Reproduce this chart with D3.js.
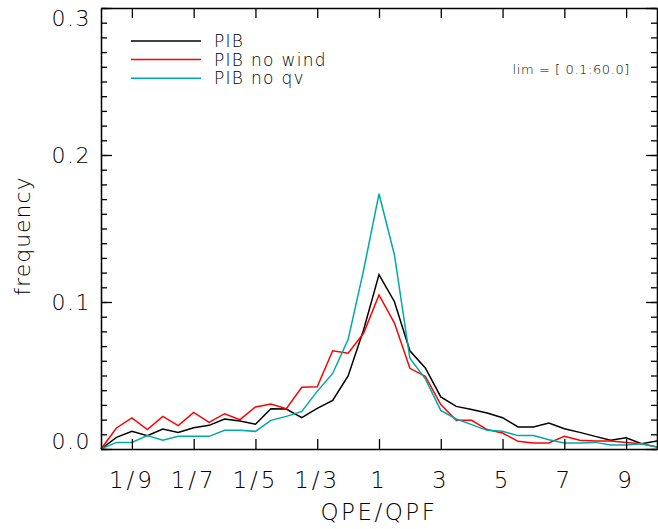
<!DOCTYPE html>
<html>
<head>
<meta charset="utf-8">
<script src="https://cdn.jsdelivr.net/npm/d3@7"></script>
<style>
  body { margin: 0; background: #fff; }
  svg { display: block; }
  text { font-family: "DejaVu Sans", sans-serif; font-weight: 200; fill: #000; }
</style>
</head>
<body>
<div id="chart"></div>
<script>
// bin centres on the symmetric QPE/QPF axis (1 -> 0, 3 -> 2, 1/3 -> -2 ...)
var bins = [-9, -8.5, -8, -7.5, -7, -6.5, -6, -5.5, -5, -4.5, -4, -3.5, -3, -2.5, -2, -1.5, -1, -0.5,
            0, 0.5, 1, 1.5, 2, 2.5, 3, 3.5, 4, 4.5, 5, 5.5, 6, 6.5, 7, 7.5, 8, 8.5, 9];

var pib = [0, 0.0079, 0.0120, 0.0091, 0.0136, 0.0113, 0.0145, 0.0161, 0.0204, 0.0190, 0.0168, 0.0274,
           0.0272, 0.0214, 0.0276, 0.0331, 0.0497, 0.0810, 0.1186, 0.1002, 0.0668, 0.0551, 0.0354,
           0.0290, 0.0268, 0.0245, 0.0213, 0.0150, 0.0150, 0.0177, 0.0138, 0.0113, 0.0086, 0.0059,
           0.0077, 0.0036, 0.0054];

var pibNoWind = [0, 0.0143, 0.0211, 0.0132, 0.0222, 0.0159, 0.0249, 0.0181, 0.0240, 0.0200, 0.0286,
                 0.0306, 0.0274, 0.0420, 0.0424, 0.0668, 0.0651, 0.0787, 0.1048, 0.0857, 0.0549,
                 0.0495, 0.0302, 0.0195, 0.0195, 0.0132, 0.0109, 0.0052, 0.0041, 0.0041, 0.0086,
                 0.0059, 0.0054, 0.0054, 0.0045, 0.0036, 0.0014];

var pibNoQv = [0, 0.0045, 0.0045, 0.0091, 0.0059, 0.0086, 0.0086, 0.0086, 0.0127, 0.0127, 0.0120,
               0.0195, 0.0222, 0.0256, 0.0392, 0.0514, 0.0744, 0.1215, 0.1736, 0.1320, 0.0617,
               0.0477, 0.0263, 0.0204, 0.0166, 0.0127, 0.0120, 0.0091, 0.0091, 0.0063, 0.0041,
               0.0041, 0.0045, 0.0027, 0.0027, 0.0036, 0.0014];

var seriesNames = ["PIB", "PIB no wind", "PIB no qv"];
var seriesColors = ["#000000", "#ff0000", "#00a8a8"];

var xTickValues = [-8, -6, -4, -2, 0, 2, 4, 6, 8];
var xTickLabels = ["1/9", "1/7", "1/5", "1/3", "1", "3", "5", "7", "9"];
var yTickValues = [0, 0.1, 0.2, 0.3];
var yTickLabels = ["0.0", "0.1", "0.2", "0.3"];

var w = 658, h = 529;
var pLeft = 101, pRight = 657, pTop = 8, pBottom = 449;

var x = d3.scaleLinear().domain([-9, 9]).range([pLeft, pRight]);
var y = d3.scaleLinear().domain([0, 0.3]).range([pBottom, pTop]);

var svg = d3.select("#chart").append("svg")
  .attr("width", w)
  .attr("height", h);

// data lines
var allSeries = [pib, pibNoWind, pibNoQv];
var line = d3.line()
  .x(function(d, i) { return x(bins[i]); })
  .y(function(d) { return y(d); });

svg.append("g")
  .selectAll("path")
  .data(allSeries)
  .enter().append("path")
    .attr("d", line)
    .attr("fill", "none")
    .attr("stroke", function(d, i) { return seriesColors[i]; })
    .attr("stroke-width", 1.5);

// axes, IDL style: ticks point inward
var fmtX = function(d) { return xTickLabels[xTickValues.indexOf(d)]; };
var minorY = d3.range(0, 31).map(function(i) { return i / 100; });

function styleAxis(g) {
  g.select(".domain").attr("stroke", "#000").attr("stroke-width", 1.3);
  g.selectAll(".tick line").attr("stroke", "#000").attr("stroke-width", 1.3);
}

svg.append("g")
  .attr("transform", "translate(0," + pBottom + ")")
  .call(d3.axisBottom(x).tickValues(xTickValues).tickSizeInner(-10).tickSizeOuter(0).tickFormat(""))
  .call(styleAxis);

svg.append("g")
  .attr("transform", "translate(0," + pTop + ")")
  .call(d3.axisTop(x).tickValues(xTickValues).tickSizeInner(-10).tickSizeOuter(0).tickFormat(""))
  .call(styleAxis);

// minor y ticks
svg.append("g")
  .attr("transform", "translate(" + pLeft + ",0)")
  .call(d3.axisLeft(y).tickValues(minorY).tickSizeInner(-6).tickSizeOuter(0).tickFormat(""))
  .call(styleAxis);
svg.append("g")
  .attr("transform", "translate(" + pRight + ",0)")
  .call(d3.axisRight(y).tickValues(minorY).tickSizeInner(-6).tickSizeOuter(0).tickFormat(""))
  .call(styleAxis);
// major y ticks
svg.append("g")
  .attr("transform", "translate(" + pLeft + ",0)")
  .call(d3.axisLeft(y).tickValues(yTickValues).tickSizeInner(-11).tickSizeOuter(0).tickFormat(""))
  .call(styleAxis);
svg.append("g")
  .attr("transform", "translate(" + pRight + ",0)")
  .call(d3.axisRight(y).tickValues(yTickValues).tickSizeInner(-11).tickSizeOuter(0).tickFormat(""))
  .call(styleAxis);

// tick labels
svg.append("g")
  .selectAll("text")
  .data(xTickValues)
  .enter().append("text")
    .attr("x", function(d) { return x(d); })
    .attr("y", 488)
    .attr("text-anchor", "middle")
    .style("font-size", "23px")
    .style("letter-spacing", "3px")
    .text(fmtX);

svg.append("g")
  .selectAll("text")
  .data(yTickValues)
  .enter().append("text")
    .attr("x", 91)
    .attr("y", function(d) { return Math.max(pTop + 10, Math.min(pBottom - 8, y(d))); })
    .attr("dy", "0.36em")
    .attr("text-anchor", "end")
    .style("font-size", "22px")
    .style("letter-spacing", "1.5px")
    .text(function(d, i) { return yTickLabels[i]; });

// axis titles
svg.append("text")
  .attr("x", 379)
  .attr("y", 520)
  .attr("text-anchor", "middle")
  .style("font-size", "23px")
  .style("letter-spacing", "2.5px")
  .text("QPE/QPF");

svg.append("text")
  .attr("transform", "translate(30,236)rotate(-90)")
  .attr("text-anchor", "middle")
  .style("font-size", "22px")
  .style("letter-spacing", "1px")
  .text("frequency");

// legend
var legend = svg.append("g")
  .selectAll("g")
  .data(seriesNames)
  .enter().append("g")
    .attr("transform", function(d, i) { return "translate(131," + (41 + i * 18.6) + ")"; });

legend.append("line")
  .attr("x1", 0).attr("x2", 70)
  .attr("stroke", function(d, i) { return seriesColors[i]; })
  .attr("stroke-width", 1.5);

legend.append("text")
  .attr("x", 83)
  .attr("dy", "0.36em")
  .style("font-size", "17px")
  .style("letter-spacing", "1.3px")
  .text(function(d) { return d; });

svg.append("text")
  .attr("x", 630)
  .attr("y", 74)
  .attr("text-anchor", "end")
  .style("font-size", "13px")
  .style("font-weight", "300")
  .style("letter-spacing", "0.6px")
  .text("lim = [ 0.1:60.0]");
</script>
</body>
</html>
